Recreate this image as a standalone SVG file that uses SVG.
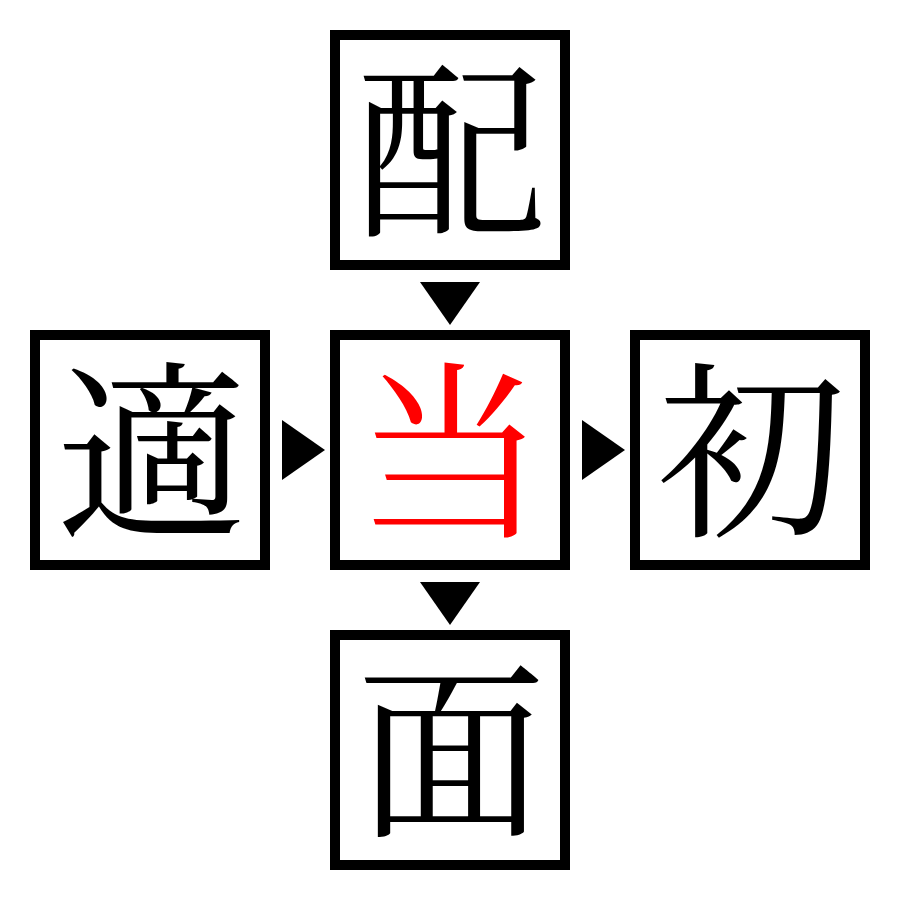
<svg xmlns="http://www.w3.org/2000/svg" width="900" height="900" viewBox="0 0 900 900">
<style>
.box{fill:#fff;stroke:#000;stroke-width:10}
.ch{font-family:"Noto Serif CJK JP","Noto Sans CJK JP",serif;font-size:190px;text-anchor:middle;fill:#000}
.red{fill:#ff0000}
.arr{fill:#000}
</style>
<rect width="900" height="900" fill="#fff"/>
<g id="node-top"><rect class="box" x="335" y="35" width="230" height="230"/><text class="ch" x="451" y="222">配</text></g>
<g id="node-left"><rect class="box" x="35" y="335" width="230" height="230"/><text class="ch" x="151" y="522">適</text></g>
<g id="node-center"><rect class="box" x="335" y="335" width="230" height="230"/><text class="ch red" x="451" y="522">当</text></g>
<g id="node-right"><rect class="box" x="635" y="335" width="230" height="230"/><text class="ch" x="751" y="522">初</text></g>
<g id="node-bottom"><rect class="box" x="335" y="635" width="230" height="230"/><text class="ch" x="451" y="822">面</text></g>
<g id="connectors">
<polygon class="arr" points="420,282 480,282 450,325"/>
<polygon class="arr" points="282,420 282,480 325,450"/>
<polygon class="arr" points="582,420 582,480 625,450"/>
<polygon class="arr" points="420,582 480,582 450,625"/>
</g>
</svg>
